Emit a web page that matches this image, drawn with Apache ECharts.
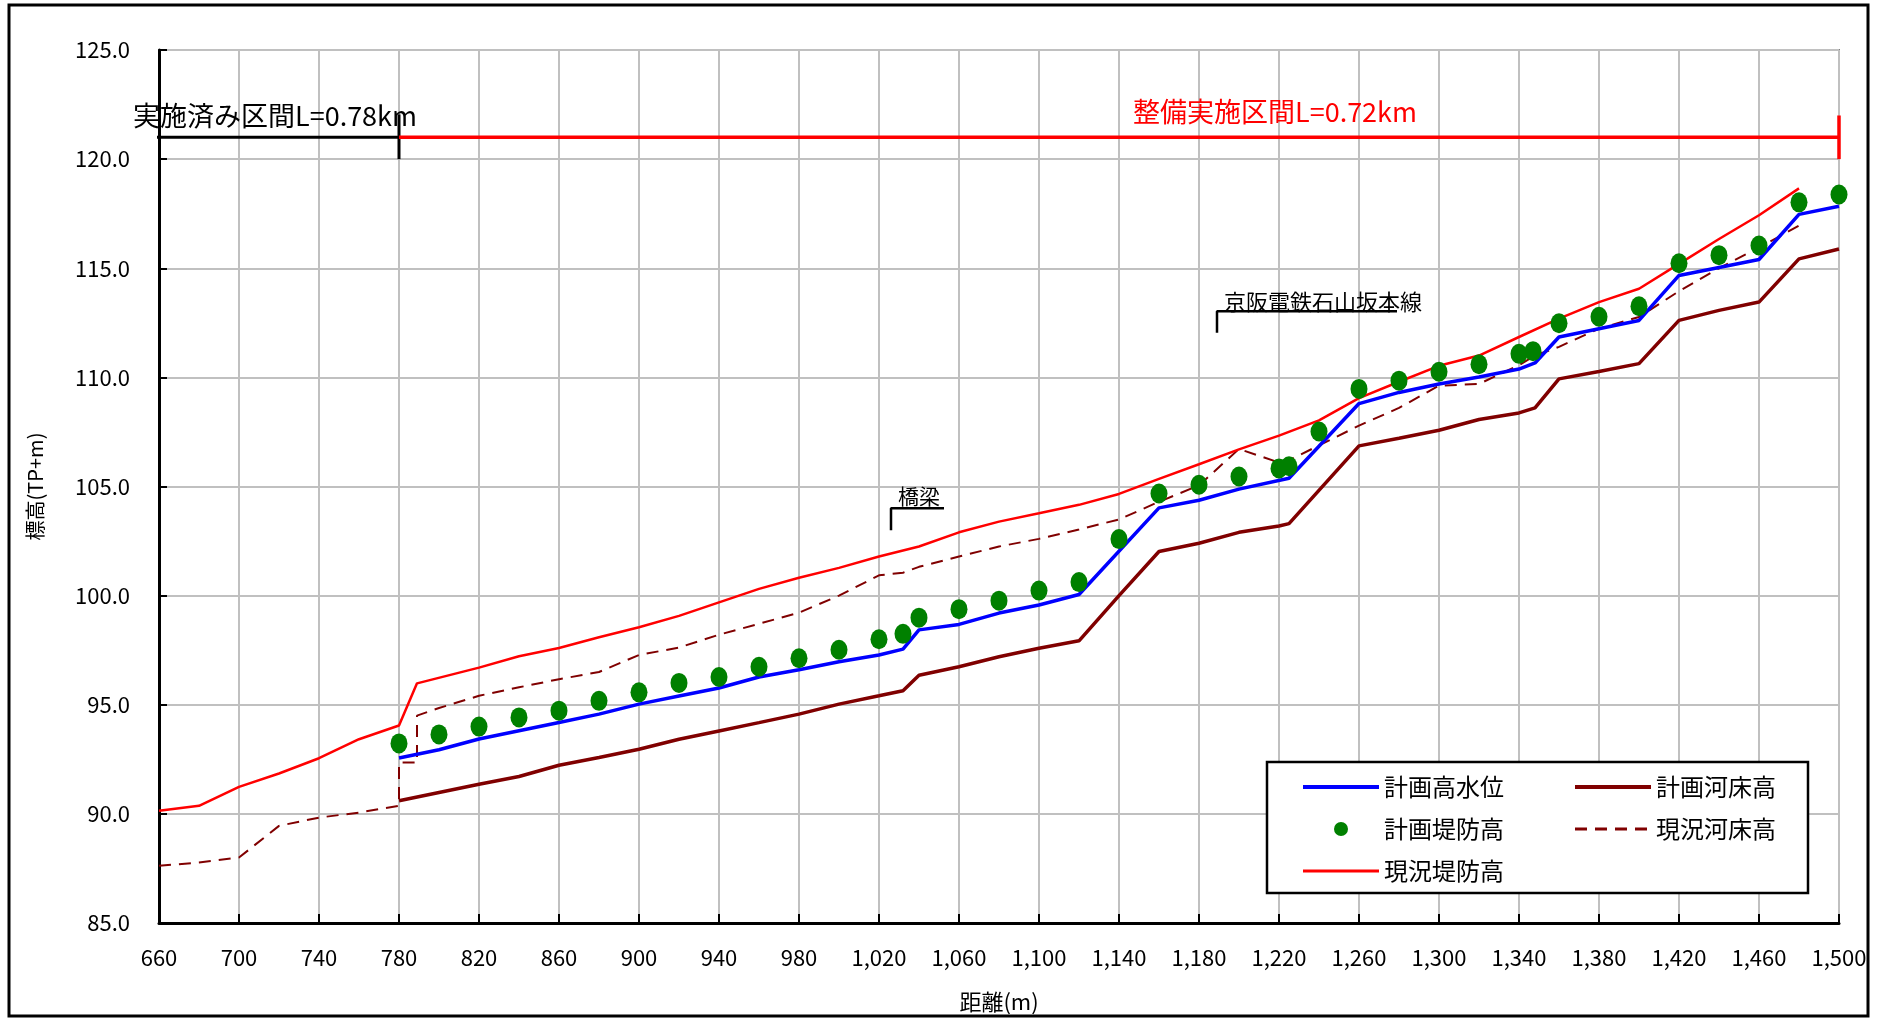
<!DOCTYPE html>
<html>
<head>
<meta charset="utf-8">
<title>縦断図</title>
<script src="https://cdn.jsdelivr.net/npm/echarts@6/dist/echarts.min.js"></script>
<style>
  html, body { margin: 0; padding: 0; background: #fff; }
  #chart { width: 1888px; height: 1018px; }
</style>
</head>
<body>
<div id="chart"></div>
<script>
// [距離(m), 標高(TP+m)]
var planHighWater = [
  [780, 92.56], [800, 92.94], [820, 93.43], [840, 93.81], [860, 94.19], [880, 94.57],
  [900, 95.03], [920, 95.4], [940, 95.77], [960, 96.27], [980, 96.6], [1000, 96.97],
  [1020, 97.28], [1032, 97.55], [1040, 98.43], [1060, 98.68], [1080, 99.2], [1100, 99.57],
  [1120, 100.05], [1160, 104.02], [1180, 104.37], [1200, 104.88], [1225, 105.38],
  [1260, 108.8], [1280, 109.31], [1300, 109.7], [1320, 110.02], [1340, 110.38],
  [1348, 110.66], [1360, 111.85], [1380, 112.23], [1400, 112.61], [1420, 114.67],
  [1460, 115.4], [1480, 117.47], [1500, 117.84]
];
var planBed = [
  [780, 90.6], [800, 90.98], [820, 91.36], [840, 91.71], [860, 92.23], [880, 92.58],
  [900, 92.96], [920, 93.42], [940, 93.8], [960, 94.18], [980, 94.57], [1000, 95.03],
  [1020, 95.41], [1032, 95.64], [1040, 96.35], [1060, 96.74], [1080, 97.2], [1100, 97.59],
  [1120, 97.93], [1140, 100.0], [1160, 102.02], [1180, 102.4], [1200, 102.9], [1220, 103.19],
  [1225, 103.3], [1260, 106.86], [1280, 107.21], [1300, 107.58], [1320, 108.07],
  [1340, 108.37], [1348, 108.6], [1360, 109.93], [1380, 110.27], [1400, 110.63],
  [1420, 112.61], [1440, 113.07], [1460, 113.45], [1480, 115.43], [1500, 115.88]
];
var planLevee = [
  [780, 93.23], [800, 93.64], [820, 94.0], [840, 94.42], [860, 94.73], [880, 95.18],
  [900, 95.57], [920, 96.0], [940, 96.27], [960, 96.74], [980, 97.13], [1000, 97.52],
  [1020, 98.0], [1032, 98.25], [1040, 98.99], [1060, 99.38], [1080, 99.77], [1100, 100.23],
  [1120, 100.62], [1140, 102.59], [1160, 104.68], [1180, 105.08], [1200, 105.46],
  [1220, 105.83], [1225, 105.93], [1240, 107.52], [1260, 109.47], [1280, 109.85],
  [1300, 110.26], [1320, 110.6], [1340, 111.08], [1347, 111.2], [1360, 112.48],
  [1380, 112.78], [1400, 113.26], [1420, 115.23], [1440, 115.6], [1460, 116.04],
  [1480, 118.02], [1500, 118.38]
];
var existBed = [
  [660, 87.62], [680, 87.77], [700, 88.0], [720, 89.45], [740, 89.83], [760, 90.06],
  [780, 90.37], [780, 92.35], [789, 92.35], [789, 94.5], [800, 94.85], [820, 95.41],
  [840, 95.8], [860, 96.17], [880, 96.5], [900, 97.28], [920, 97.62], [940, 98.21],
  [960, 98.71], [980, 99.22], [1000, 100.0], [1020, 100.93], [1032, 101.05], [1040, 101.32],
  [1060, 101.79], [1080, 102.25], [1100, 102.6], [1120, 103.03], [1140, 103.49],
  [1160, 104.3], [1180, 105.05], [1200, 106.72], [1220, 106.1], [1225, 106.2],
  [1260, 107.79], [1280, 108.6], [1300, 109.62], [1320, 109.7], [1340, 110.56],
  [1348, 111.0], [1360, 111.4], [1380, 112.23], [1400, 112.77], [1420, 113.95],
  [1440, 115.0], [1460, 115.95], [1480, 116.95]
];
var existLevee = [
  [660, 90.14], [680, 90.37], [700, 91.24], [720, 91.85], [740, 92.55], [760, 93.42],
  [780, 94.05], [789, 95.98], [820, 96.7], [840, 97.22], [860, 97.6], [880, 98.09],
  [900, 98.55], [920, 99.07], [940, 99.69], [960, 100.31], [980, 100.82], [1000, 101.27],
  [1020, 101.79], [1040, 102.25], [1060, 102.9], [1080, 103.39], [1100, 103.77],
  [1120, 104.16], [1140, 104.66], [1160, 105.35], [1180, 106.02], [1200, 106.7],
  [1220, 107.33], [1240, 108.03], [1260, 109.05], [1280, 109.8], [1300, 110.53],
  [1320, 111.0], [1340, 111.85], [1360, 112.69], [1380, 113.45], [1400, 114.06],
  [1420, 115.2], [1440, 116.34], [1460, 117.43], [1480, 118.66]
];

// 区間・注記
var doneSection = [[655.5, 121.0], [780, 121.0]];
var doneSectionEnd = [[780, 120.0], [780, 122.05]];
var planSection = [[780, 121.0], [1500, 121.0]];
var planSectionEnd = [[1500, 120.0], [1500, 122.0]];
var bridgeMark = [[1026, 103.0], [1026, 104.0], [1052.5, 104.0]];
var railMark = [[1189, 112.05], [1189, 113.03], [1279, 113.03]];
var notes = [
  { text: '実施済み区間L=0.78km', at: [647, 122.0] },
  { text: '整備実施区間L=0.72km', at: [1147, 122.16] },
  { text: '橋梁', at: [1029.5, 104.58] },
  { text: '京阪電鉄石山坂本線', at: [1192.5, 113.49] }
];

var X_MIN = 660, X_MAX = 1500;
var FONT = '"Noto Sans CJK JP", "Noto Sans", sans-serif';

var myChart = echarts.init(document.getElementById('chart'));

function curve(name, data, color, width, type, z) {
  return {
    name: name, type: 'line', data: data, symbol: 'none', z: z,
    lineStyle: { color: color, width: width, type: type || 'solid' },
    itemStyle: { color: color }
  };
}
function mark(data, color, width) {
  return {
    type: 'line', data: data, symbol: 'none', clip: false, silent: true, z: 6,
    lineStyle: { color: color, width: width }
  };
}
// legend entry for a line: hide the marker the line icon draws in its middle
function lineEntry(name, width) {
  return { name: name, itemStyle: { opacity: 0 }, lineStyle: { width: width } };
}

var legendText = { color: '#000', fontSize: 24, fontFamily: FONT, lineHeight: 24 };

myChart.setOption({
  animation: false,
  backgroundColor: '#fff',
  grid: {
    left: 159, right: 49, top: 50, bottom: 95,
    show: true, borderColor: '#808080', borderWidth: 2,
    outerBoundsMode: 'none'
  },
  legend: [
    {
      data: [lineEntry('計画高水位', 4), '計画堤防高', lineEntry('現況堤防高', 3)],
      orient: 'vertical', left: 1301, top: 775, padding: 0,
      itemWidth: 76, itemHeight: 14, itemGap: 18,
      selectedMode: false, textStyle: legendText
    },
    {
      data: [lineEntry('計画河床高', 4), lineEntry('現況河床高', 3)],
      orient: 'vertical', left: 1573, top: 775, padding: 0,
      itemWidth: 76, itemHeight: 14, itemGap: 18,
      selectedMode: false, textStyle: legendText
    }
  ],
  xAxis: [
    // data axis
    { type: 'value', min: X_MIN, max: X_MAX, show: false },
    // display axis (0 based so that ticks start at 660)
    {
      type: 'value', position: 'bottom', min: 0, max: X_MAX - X_MIN, interval: 40,
      name: '距離(m)', nameLocation: 'middle', nameGap: 68,
      nameTextStyle: { color: '#000', fontSize: 22, fontFamily: FONT },
      axisLine: { lineStyle: { color: '#000', width: 3 } },
      axisTick: { inside: true, length: 9, lineStyle: { color: '#000', width: 2 } },
      axisLabel: {
        color: '#000', fontSize: 22, fontFamily: FONT, margin: 24,
        formatter: function (v) { return (v + X_MIN).toLocaleString('en-US'); }
      },
      splitLine: { show: true, lineStyle: { color: '#c0c0c0', width: 2 } }
    }
  ],
  yAxis: {
    type: 'value', min: 85, max: 125, interval: 5,
    name: '標高(TP+m)', nameLocation: 'middle', nameGap: 114,
    nameTextStyle: { color: '#000', fontSize: 20, fontFamily: FONT },
    axisLine: { show: true, lineStyle: { color: '#000', width: 3 } },
    axisTick: { show: true, inside: true, length: 8, lineStyle: { color: '#000', width: 2 } },
    axisLabel: {
      color: '#000', fontSize: 22, fontFamily: FONT, margin: 29,
      formatter: function (v) { return v.toFixed(1); }
    },
    splitLine: { show: true, lineStyle: { color: '#c0c0c0', width: 2 } }
  },
  series: [
    curve('現況河床高', existBed, '#800000', 2, [12, 8], 2),
    curve('計画河床高', planBed, '#800000', 3.5, 'solid', 3),
    curve('現況堤防高', existLevee, '#ff0000', 2.5, 'solid', 3),
    curve('計画高水位', planHighWater, '#0000ff', 3.5, 'solid', 4),
    {
      name: '計画堤防高', type: 'scatter', data: planLevee, z: 5,
      symbol: 'circle', symbolSize: [17, 20],
      itemStyle: { color: '#008000', opacity: 1 }
    },
    mark(doneSection, '#000', 3),
    mark(doneSectionEnd, '#000', 3),
    mark(planSection, '#ff0000', 3.5),
    mark(planSectionEnd, '#ff0000', 3.5),
    mark(bridgeMark, '#000', 2.5),
    mark(railMark, '#000', 2.5)
  ]
});

// 注記テキストと枠
var noteStyle = [
  { fill: '#000', size: 27 },
  { fill: '#ff0000', size: 27 },
  { fill: '#000', size: 21 },
  { fill: '#000', size: 22 }
];
var graphics = notes.map(function (n, i) {
  var p = myChart.convertToPixel({ xAxisIndex: 0, yAxisIndex: 0 }, n.at);
  var s = noteStyle[i];
  return {
    type: 'text', x: p[0], y: p[1], z: 7, silent: true,
    style: {
      text: n.text, fill: s.fill, fontSize: s.size, fontFamily: FONT,
      align: 'left', verticalAlign: 'middle'
    }
  };
});
graphics.push({
  type: 'rect', z: 3, silent: true,
  shape: { x: 1267, y: 762, width: 541, height: 131 },
  style: { fill: '#fff', stroke: '#000', lineWidth: 2.5 }
});
graphics.push({
  type: 'rect', z: 8, silent: true,
  shape: { x: 9, y: 5, width: 1859, height: 1011 },
  style: { fill: 'none', stroke: '#000', lineWidth: 3 }
});
myChart.setOption({ graphic: graphics });
</script>
</body>
</html>
